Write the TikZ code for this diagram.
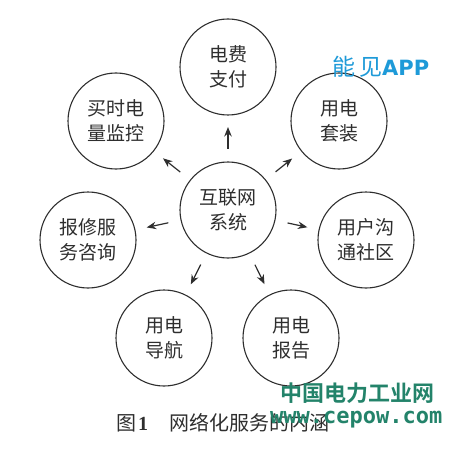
\documentclass[tikz,border=0pt]{standalone}
\usepackage{fontspec}
\setmainfont{Liberation Serif}
\newfontfamily\cjk{Noto Sans CJK SC}
\newfontfamily\cjkb{Noto Sans CJK SC Bold}
\newfontfamily\monob{DejaVu Sans Mono Bold}
\newfontfamily\sansb{DejaVu Sans Bold}
\usetikzlibrary{arrows.meta}
\definecolor{ink}{HTML}{2E2E2E}
\definecolor{wmblue}{HTML}{1E9AD8}
\definecolor{wmgreen}{HTML}{23836A}
\begin{document}
\begin{tikzpicture}[x=1pt,y=-1pt,
  bubble/.style={circle,draw=ink,line width=1.1pt,minimum size=96pt,inner sep=0pt,outer sep=0pt,
    align=center,text=ink,font=\cjk\fontsize{19}{25}\selectfont},
  link/.style={-{Stealth[length=9.5pt,width=7.5pt]},draw=ink,line width=1.2pt,shorten <=13pt,shorten >=12pt}]
\useasboundingbox (0,0) rectangle (457,449);
\node[bubble] (sys) at (228,210) {互联网\\系统};
\node[bubble] (pay) at (228,67) {电费\\支付};
\node[bubble] (mon) at (116,121) {买时电\\量监控};
\node[bubble] (pkg) at (339,121) {用电\\套装};
\node[bubble] (rep) at (88,240) {报修服\\务咨询};
\node[bubble] (com) at (366,240) {用户沟\\通社区};
\node[bubble] (nav) at (164,338) {用电\\导航};
\node[bubble] (rpt) at (291,338) {用电\\报告};
\foreach \t in {pay,mon,pkg,rep,com,nav,rpt} \draw[link] (sys) -- (\t);
\node[anchor=west,text=ink,inner sep=0pt] (cap) at (116,423)
  {{\cjk\fontsize{20}{20}\selectfont 图}\hspace{2pt}{\fontsize{20}{20}\selectfont\bfseries 1}\hspace{21pt}{\cjk\fontsize{20}{20}\selectfont 网络化服务的内涵}};
\node[anchor=west,text=wmblue,inner sep=0pt] (wm1) at (332,67)
  {{\cjk\fontsize{23}{23}\selectfont 能\hspace{4pt}见}{\sansb\fontsize{21}{21}\selectfont APP}};
\node[anchor=west,text=wmgreen,inner sep=0pt] (wm2) at (280,393)
  {\cjkb\fontsize{22}{22}\selectfont 中国电力工业网};
\node[anchor=west,text=wmgreen,inner sep=0pt] (wm3) at (270,420)
  {\monob\fontsize{22}{22}\selectfont www.cepow.com};
\end{tikzpicture}
\end{document}
